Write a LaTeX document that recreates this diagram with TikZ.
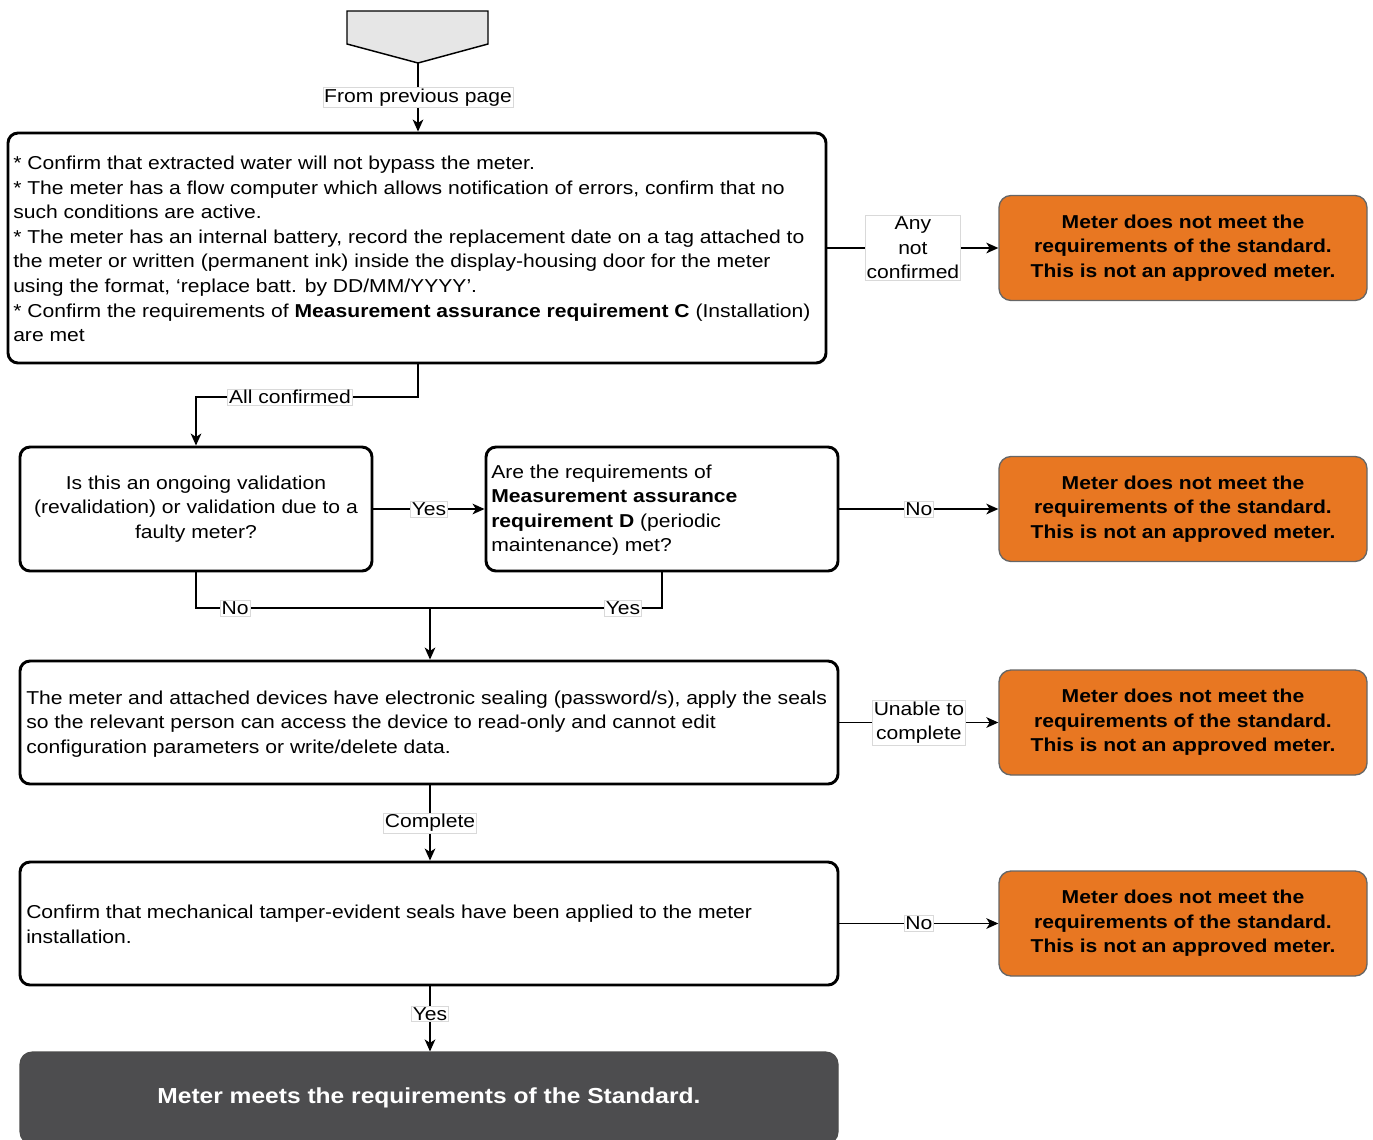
\documentclass[tikz,border=0pt]{standalone}
\usepackage{fontspec}
\setmainfont{Liberation Sans}[FakeStretch=1.13]
\usetikzlibrary{arrows.meta,calc}
\definecolor{orangebox}{RGB}{232,119,34}
\definecolor{darkbox}{RGB}{77,77,79}
\definecolor{offfill}{RGB}{230,230,230}
\newcommand{\bodyfont}{\fontsize{14pt}{18.4pt}\selectfont}
\tikzset{
  stepbox/.style={draw=black,line width=2.2pt,rounded corners=7.5pt,fill=white,inner sep=0pt,
    font=\bodyfont},
  boxtext/.style={anchor=west,inner sep=0pt,align=left,font=\bodyfont},
  failbox/.style={draw=black!60,line width=1pt,rounded corners=9pt,fill=orangebox,
    minimum width=276pt,minimum height=78.75pt,align=center,
    font=\bodyfont\bfseries},
  lbl/.style={draw=black!15,line width=0.4pt,fill=white,inner sep=1pt,align=center,
    font=\bodyfont},
  conn/.style={line width=1.1pt,-{Stealth[length=9pt,width=8pt,inset=2.5pt]}},
  seg/.style={line width=1.1pt},
}
\begin{document}
\begin{tikzpicture}[x=0.75pt,y=-0.75pt]
\useasboundingbox (0,0) rectangle (1373,1139);
% off-page connector
\draw[line width=1.1pt,fill=offfill] (347,11) -- (488,11) -- (488,44) -- (418,63) -- (347,44) -- cycle;
\coordinate (off) at (418,63);
% main boxes
\node[stepbox,minimum width=613.5pt,minimum height=172.5pt] (b1) at (417,248) {};
\node[boxtext] (t1) at (13,249) {%
* Confirm that extracted water will not bypass the meter.\\
* The meter has a flow computer which allows notification of errors, confirm that no\\
such conditions are active.\\
* The meter has an internal battery, record the replacement date on a tag attached to\\
the meter or written (permanent ink) inside the display-housing door for the meter\\
using the format, ‘replace batt. by DD/MM/YYYY’.\\
* Confirm the requirements of \textbf{Measurement assurance requirement C} (Installation)\\
are met};
\node[stepbox,minimum width=264pt,minimum height=93pt,align=center] (b2) at (196,509) {Is this an ongoing validation\\(revalidation) or validation due to a\\faulty meter?};
\node[stepbox,minimum width=264pt,minimum height=93pt] (b3) at (662,509) {};
\node[boxtext] (t3) at (491,510) {Are the requirements of\\\textbf{Measurement assurance}\\\textbf{requirement D} (periodic\\maintenance) met?};
\node[stepbox,minimum width=613.5pt,minimum height=92.25pt] (b4) at (429,722.5) {};
\node[boxtext] (t4) at (26,724) {The meter and attached devices have electronic sealing (password/s), apply the seals\\so the relevant person can access the device to read-only and cannot edit\\configuration parameters or write/delete data.};
\node[stepbox,minimum width=613.5pt,minimum height=92.25pt] (b5) at (429,923.5) {};
\node[boxtext] (t5) at (26,924.5) {Confirm that mechanical tamper-evident seals have been applied to the meter\\installation.};
\node[draw=black!70,line width=0.8pt,fill=darkbox,rounded corners=9pt,minimum width=613.5pt,minimum height=69pt,
  text=white,font=\fontsize{16.3pt}{20pt}\selectfont\bfseries] (fin) at (429,1098) {Meter meets the requirements of the Standard.};
% failure boxes
\node[failbox] (o1) at (1183,248) {Meter does not meet the\\requirements of the standard.\\This is not an approved meter.};
\node[failbox] (o2) at (1183,509) {Meter does not meet the\\requirements of the standard.\\This is not an approved meter.};
\node[failbox] (o3) at (1183,722.5) {Meter does not meet the\\requirements of the standard.\\This is not an approved meter.};
\node[failbox] (o4) at (1183,923.5) {Meter does not meet the\\requirements of the standard.\\This is not an approved meter.};
% connectors
\draw[conn] (off) -- node[lbl]{From previous page} (b1.north -| off);
\draw[conn] (b1.east) -- node[lbl]{Any\\not\\confirmed} (o1.west);
\coordinate (j1) at (418,397);
\coordinate (j1b) at (196,397);
\draw[conn] (b1.south -| j1) -- (j1) -- (j1b) -- (b2.north);
\node[lbl] (l1) at (290,397) {All confirmed};
\draw[conn] (b2.east) -- node[lbl]{Yes} (b3.west);
\draw[conn] (b3.east) -- node[lbl]{No} (o2.west);
\coordinate (j2) at (196,608);
\coordinate (j3) at (662,608);
\coordinate (j4) at (430,608);
\draw[seg] (b2.south) -- (j2) -- (j4);
\draw[seg] (b3.south) -- (j3) -- (j4);
\draw[conn] (j4) -- (b4.north -| j4);
\node[lbl] (l2) at (235,608) {No};
\node[lbl] (l3) at (623,608) {Yes};
\draw[conn] (b4.east) -- node[lbl]{Unable to\\complete} (o3.west);
\draw[conn] (b4.south -| j4) -- node[lbl]{Complete} (b5.north -| j4);
\draw[conn] (b5.east) -- node[lbl]{No} (o4.west);
\draw[conn] (b5.south -| j4) -- node[lbl,pos=0.42]{Yes} (fin.north -| j4);
\end{tikzpicture}
\end{document}
